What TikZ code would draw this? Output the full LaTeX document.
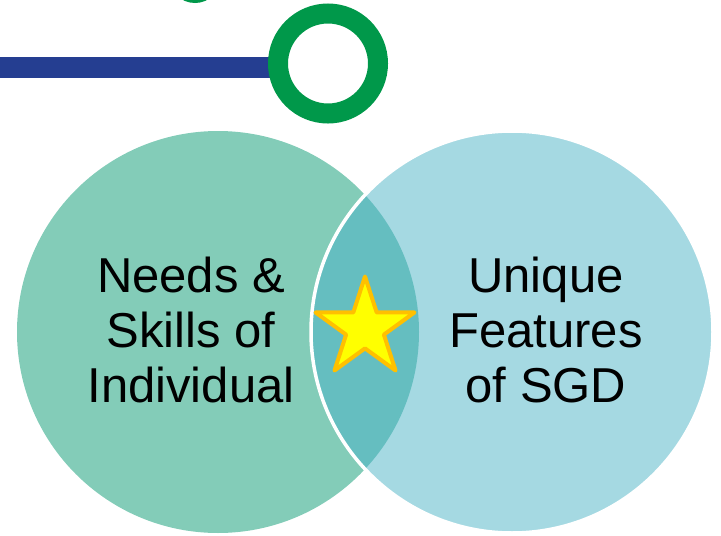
\documentclass[tikz,border=0pt]{standalone}
\usepackage{fontspec}
\setmainfont{Liberation Sans}
\usetikzlibrary{shapes.geometric}
\definecolor{leftc}{HTML}{83CCB8}
\definecolor{rightc}{HTML}{A5D9E2}
\definecolor{lensc}{HTML}{65BEC0}
\definecolor{ringgreen}{HTML}{00984A}
\definecolor{barblue}{HTML}{253E91}
\definecolor{starfill}{HTML}{FFFF00}
\definecolor{starline}{HTML}{FFC000}
\begin{document}
\begin{tikzpicture}[x=1pt,y=-1pt,
  lbl/.style={align=center,font=\fontsize{49}{55}\selectfont,inner sep=0pt,text=black},
  starshape/.style={star,star points=5,star point ratio=2.618,minimum size=104pt,inner sep=0pt,
    fill=starfill,draw=starline,line width=4pt,line join=round}]
\useasboundingbox (0,0) rectangle (721,536);
\fill[ringgreen] (195,-23) circle (26pt);
\draw[barblue, line width=21pt] (0,67.5) -- (285,67.5);
\draw[ringgreen, line width=20pt, fill=white] (328,63.5) circle (50pt);
\fill[leftc] (218,332) circle (201pt);
\fill[rightc] (512,332) circle (201pt);
\begin{scope}
  \clip (218,332) circle (201pt);
  \fill[lensc] (512,332) circle (201pt);
\end{scope}
\draw[white, line width=3.5pt] (512,332) circle (201pt);
\node[starshape] (star) at (365,328.5) {};
\node[lbl] (needs) at (191,330) {Needs \&\\Skills of\\Individual};
\node[lbl] (unique) at (546,330) {Unique\\Features\\of SGD};
\end{tikzpicture}
\end{document}
